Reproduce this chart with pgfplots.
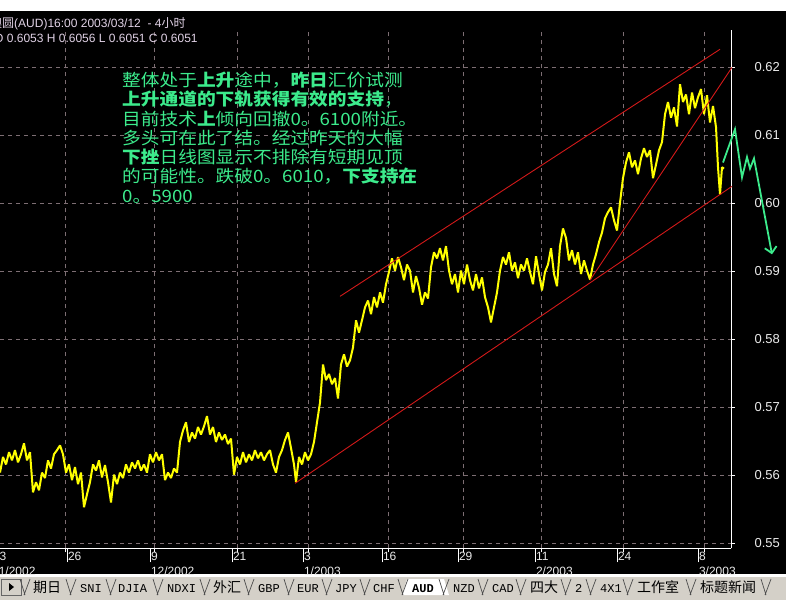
\documentclass[border=0pt]{standalone}
\usepackage{pgfplots}
\pgfplotsset{compat=1.18}
\usepackage{graphicx}
\usepackage{fontspec}
\usetikzlibrary{arrows.meta}
\setmainfont{Liberation Sans}
\newfontfamily\cjk{Noto Sans CJK SC}
\newfontfamily\tabmono{Liberation Mono}

\definecolor{pricey}{RGB}{255,255,0}
\definecolor{trendred}{RGB}{210,25,25}
\definecolor{notegreen}{RGB}{60,235,140}
\definecolor{gridgray}{RGB}{125,110,115}
\definecolor{hdr}{RGB}{225,210,230}
\definecolor{ticktxt}{RGB}{235,235,235}
\definecolor{tabgray}{RGB}{212,208,200}

% AUD 4-hour closes (x = time position on the chart)
\pgfplotstableread{
x y
0 0.5604
3 0.5627
6 0.5616
9 0.5634
12 0.5622
15 0.5637
18 0.5619
21 0.5631
24 0.5647
27 0.5622
30 0.5634
33 0.5575
36 0.5590
39 0.5578
42 0.5604
45 0.5596
48 0.5622
51 0.5610
54 0.5631
57 0.5637
60 0.5644
63 0.5631
66 0.5604
69 0.5616
72 0.5593
75 0.5612
78 0.5587
81 0.5604
84 0.5553
87 0.5572
90 0.5590
93 0.5616
96 0.5607
99 0.5622
102 0.5597
105 0.5615
108 0.5590
111 0.5560
114 0.5601
117 0.5587
120 0.5604
123 0.5596
126 0.5616
129 0.5604
132 0.5619
135 0.5610
138 0.5622
141 0.5607
144 0.5616
147 0.5604
150 0.5631
153 0.5619
156 0.5634
159 0.5622
162 0.5631
165 0.5593
168 0.5604
171 0.5596
174 0.5610
177 0.5604
180 0.5649
183 0.5666
186 0.5678
189 0.5649
192 0.5663
195 0.5654
198 0.5671
201 0.5660
204 0.5672
207 0.5687
210 0.5660
213 0.5671
216 0.5649
219 0.5663
222 0.5652
225 0.5660
228 0.5646
231 0.5654
234 0.5601
237 0.5627
240 0.5616
243 0.5634
246 0.5619
249 0.5631
252 0.5622
255 0.5637
258 0.5625
261 0.5634
264 0.5622
267 0.5631
270 0.5637
273 0.5616
276 0.5604
279 0.5627
282 0.5637
285 0.5652
288 0.5663
291 0.5640
294 0.5616
296 0.5590
299 0.5627
302 0.5616
305 0.5634
308 0.5622
311 0.5631
314 0.5649
317 0.5678
320 0.5707
323 0.5763
326 0.5740
329 0.5749
332 0.5734
335 0.5743
338 0.5713
341 0.5763
344 0.5778
347 0.5760
350 0.5769
353 0.5788
356 0.5828
359 0.5810
362 0.5828
365 0.5847
368 0.5857
371 0.5837
374 0.5862
377 0.5847
380 0.5869
383 0.5854
386 0.5881
389 0.5899
392 0.5919
395 0.5901
398 0.5921
401 0.5906
404 0.5887
407 0.5910
410 0.5901
413 0.5869
416 0.5893
419 0.5876
422 0.5851
425 0.5869
428 0.5860
431 0.5906
434 0.5928
437 0.5919
440 0.5934
443 0.5916
446 0.5937
449 0.5901
452 0.5881
455 0.5896
458 0.5869
461 0.5901
464 0.5881
467 0.5910
470 0.5887
473 0.5872
476 0.5896
479 0.5875
482 0.5891
485 0.5862
488 0.5847
491 0.5825
494 0.5847
497 0.5869
500 0.5901
503 0.5921
506 0.5910
509 0.5928
512 0.5901
515 0.5913
518 0.5890
521 0.5910
524 0.5901
527 0.5919
530 0.5899
533 0.5881
536 0.5922
539 0.5896
542 0.5872
545 0.5899
548 0.5910
551 0.5934
554 0.5896
557 0.5878
560 0.5937
563 0.5963
566 0.5949
569 0.5916
572 0.5931
575 0.5910
578 0.5928
581 0.5896
584 0.5916
587 0.5901
590 0.5888
593 0.5910
596 0.5925
599 0.5943
602 0.5957
605 0.5978
608 0.5987
611 0.5994
614 0.5975
617 0.5960
620 0.6001
623 0.6037
626 0.6060
629 0.6075
632 0.6053
635 0.6063
638 0.6043
641 0.6066
644 0.6081
647 0.6068
650 0.6078
653 0.6037
656 0.6057
659 0.6078
662 0.6090
665 0.6131
668 0.6149
671 0.6126
674 0.6141
677 0.6113
680 0.6175
683 0.6149
686 0.6160
689 0.6131
692 0.6163
695 0.6140
698 0.6156
701 0.6168
704 0.6131
707 0.6159
710 0.6119
713 0.6143
716 0.6112
718 0.6053
720 0.6013
722 0.6053
724 0.6051
}\audprice

\newcommand\noteline[2]{\node[anchor=base west, inner sep=0pt, text=notegreen] at (122,#1)
  {\scalebox{1.1}[1]{\cjk\fontsize{17}{19}\selectfont #2}};}
\newcommand\tabsep[1]{\draw[black!70, line width=0.7pt] (#1-4,21) -- (#1+1,5) (#1,5) -- (#1+6,21);}

\begin{document}
\begin{tikzpicture}[x=1pt,y=1pt]
\useasboundingbox (0,0) rectangle (800,600);
\clip (0,0) rectangle (800,600);
% window background, chart pane and sheet-tab strip
\fill[white] (0,0) rectangle (800,600);
\fill[black] (0,26) rectangle (786,589);
\fill[tabgray] (0,0) rectangle (786,23);

\begin{axis}[
  at={(0,76)}, anchor=south west,
  scale only axis, width=731pt, height=518pt,
  xmin=0, xmax=731, ymin=0.549265, ymax=0.625441,
  clip=false,
  axis x line*=bottom, axis y line*=right,
  axis line style={white, line width=1pt, -},
  tick align=outside,
  tick style={white, line width=0.8pt},
  major tick length=4pt,
  ytick={0.55,0.56,0.57,0.58,0.59,0.60,0.61,0.62},
  yticklabels={0.55,0.56,0.57,0.58,0.59,0.60,0.61,0.62},
  yticklabel style={anchor=west, xshift=16pt, text=ticktxt, font=\fontsize{13}{15}\selectfont},
  ymajorgrids=true,
  xtick={65,154,237,308,388,463,541,623,704},
  xticklabels={},
  xmajorgrids=true,
  extra x ticks={67,150,232,303,382,458,535,617,698},
  extra x tick labels={26,{9\\12/2002},21,{3\\1/2003},16,29,{11\\2/2003},24,{8\\3/2003}},
  extra x tick style={xmajorgrids=false, major tick length=14pt,
    xticklabel style={anchor=north west, align=left, xshift=-2.5pt, yshift=14pt, text=ticktxt, font=\fontsize{12}{15}\selectfont}},
  major grid style={gridgray, dash pattern=on 4pt off 4pt, line width=0.8pt},
]
% price path
\addplot[pricey, line width=2pt, line join=bevel, mark=none] table[x=x, y=y] {\audprice};
% channel and acceleration lines
\addplot[trendred, line width=0.9pt, mark=none] coordinates {(340,0.58632) (720,0.62265)};
\addplot[trendred, line width=0.9pt, mark=none] coordinates {(295,0.55882) (732,0.6025)};
\addplot[trendred, line width=0.9pt, mark=none] coordinates {(590,0.58868) (732,0.6200)};
% projected path
\addplot[notegreen, line width=1.8pt, mark=none, -{Straight Barb[length=6pt, width=12pt]}]
  coordinates {(723,0.6060) (735,0.6109) (742,0.6038) (747,0.6068) (750,0.6051) (754,0.6066) (772,0.5925)};
% first date label, partly off the left edge
\node[anchor=north west, align=left, text=ticktxt, font=\fontsize{12}{15}\selectfont, inner sep=3.33pt]
  at (axis cs:-10.5,0.549265) {13\\11/2002};
\end{axis}

% header
\node[anchor=base west, inner sep=0pt, text=hdr, font=\fontsize{12}{14}\selectfont] at (-10,572.7)
  {{\cjk 澳圆}(AUD)16:00 2003/03/12\ \ - 4{\cjk 小时}};
\node[anchor=base west, inner sep=0pt, text=hdr, font=\fontsize{12}{14}\selectfont] at (-6,557.7)
  {O 0.6053 H 0.6056 L 0.6051 C 0.6051};

% commentary
\noteline{513.5}{整体处于{\bfseries 上升}途中，{\bfseries 昨日}汇价试测}
\noteline{494.2}{{\bfseries 上升通道的下轨获得有效的支持}，}
\noteline{474.9}{目前技术{\bfseries 上}倾向回撤0。6100附近。}
\noteline{455.6}{多头可在此了结。经过昨天的大幅}
\noteline{436.3}{{\bfseries 下挫}日线图显示不排除有短期见顶}
\noteline{417.0}{的可能性。跌破0。6010，{\bfseries 下支持在}}
\noteline{397.7}{0。5900}

% sheet tabs
\fill[white] (402,5) -- (407,21) -- (444,21) -- (449,5) -- cycle;
\draw[black!60] (1,5) rectangle (21,21);
\fill[black] (9,9) -- (9,17) -- (14,13) -- cycle;
\foreach \s in {24,70,110,157,204,248,288,326,364,402,443,482,520,565,590,627,690,765} {\tabsep{\s}}
\begin{scope}[every node/.style={anchor=base west, inner sep=0pt, text=black}]
\node[font=\cjk\fontsize{14}{16}\selectfont] at (33,8) {期日};
\node[font=\tabmono\fontsize{12}{14}\selectfont] at (80,8) {SNI};
\node[font=\tabmono\fontsize{12}{14}\selectfont] at (118,8) {DJIA};
\node[font=\tabmono\fontsize{12}{14}\selectfont] at (167,8) {NDXI};
\node[font=\cjk\fontsize{14}{16}\selectfont] at (213,8) {外汇};
\node[font=\tabmono\fontsize{12}{14}\selectfont] at (258,8) {GBP};
\node[font=\tabmono\fontsize{12}{14}\selectfont] at (297,8) {EUR};
\node[font=\tabmono\fontsize{12}{14}\selectfont] at (335,8) {JPY};
\node[font=\tabmono\fontsize{12}{14}\selectfont] at (373,8) {CHF};
\node[font=\tabmono\bfseries\fontsize{12}{14}\selectfont] at (412,8) {AUD};
\node[font=\tabmono\fontsize{12}{14}\selectfont] at (453,8) {NZD};
\node[font=\tabmono\fontsize{12}{14}\selectfont] at (492,8) {CAD};
\node[font=\cjk\fontsize{14}{16}\selectfont] at (530,8) {四大};
\node[font=\tabmono\fontsize{12}{14}\selectfont] at (575,8) {2};
\node[font=\tabmono\fontsize{12}{14}\selectfont] at (600,8) {4X1};
\node[font=\cjk\fontsize{14}{16}\selectfont] at (637,8) {工作室};
\node[font=\cjk\fontsize{14}{16}\selectfont] at (700,8) {标题新闻};
\end{scope}
\end{tikzpicture}
\end{document}
